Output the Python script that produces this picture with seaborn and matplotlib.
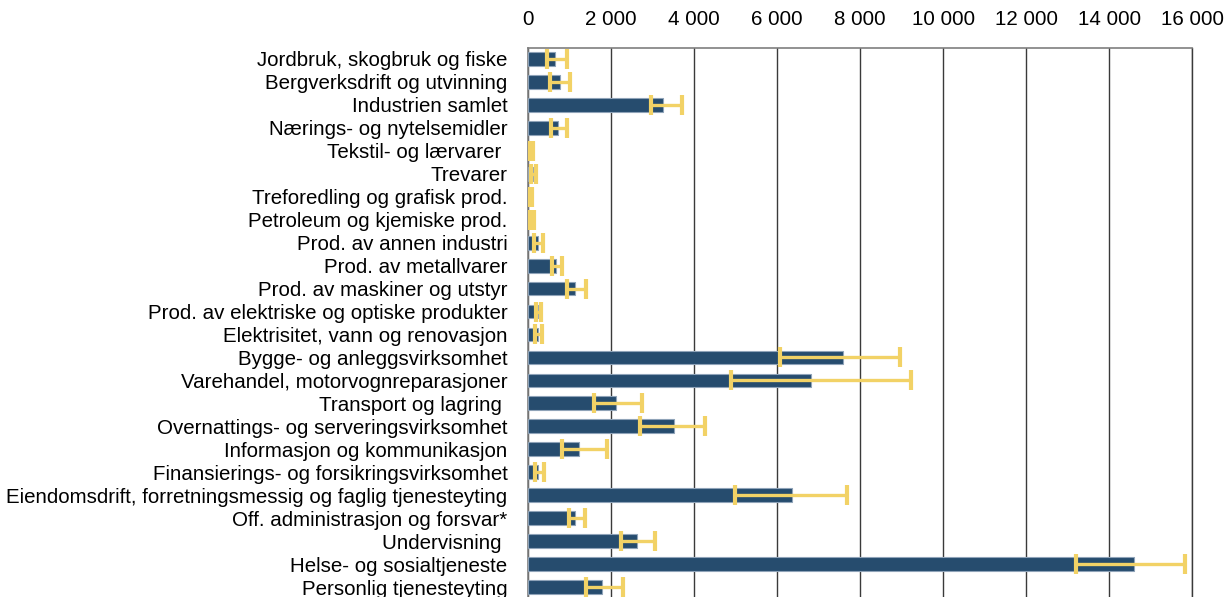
import matplotlib
matplotlib.use("Agg")
import matplotlib.pyplot as plt
import matplotlib.ticker as mticker
import seaborn as sns
import numpy as np
import pandas as pd

categories = [
    "Jordbruk, skogbruk og fiske",
    "Bergverksdrift og utvinning",
    "Industrien samlet",
    "Nærings- og nytelsemidler",
    "Tekstil- og lærvarer ",
    "Trevarer",
    "Treforedling og grafisk prod.",
    "Petroleum og kjemiske prod.",
    "Prod. av annen industri",
    "Prod. av metallvarer",
    "Prod. av maskiner og utstyr",
    "Prod. av elektriske og optiske produkter",
    "Elektrisitet, vann og renovasjon",
    "Bygge- og anleggsvirksomhet",
    "Varehandel, motorvognreparasjoner",
    "Transport og lagring ",
    "Overnattings- og serveringsvirksomhet",
    "Informasjon og kommunikasjon",
    "Finansierings- og forsikringsvirksomhet",
    "Eiendomsdrift, forretningsmessig og faglig tjenesteyting",
    "Off. administrasjon og forsvar*",
    "Undervisning ",
    "Helse- og sosialtjeneste",
    "Personlig tjenesteyting",
]
values = [643, 764, 3254, 708, 50, 120, 50, 90, 226, 660, 1125, 226, 241,
          7592, 6813, 2121, 3519, 1222, 241, 6348, 1125, 2612, 14596, 1783]
lower = [458, 523, 2950, 555, 20, 70, 10, 50, 145, 563, 925, 190, 160,
         6066, 4878, 1576, 2692, 812, 161, 4989, 988, 2227, 13192, 1391]
upper = [933, 1005, 3697, 940, 110, 175, 100, 140, 362, 820, 1383, 310, 320,
         8965, 9223, 2747, 4258, 1897, 386, 7688, 1374, 3053, 15826, 2290]
xticks = [0, 2000, 4000, 6000, 8000, 10000, 12000, 14000, 16000]

sns.set_theme(style="white")
plt.rcParams["font.family"] = ["Liberation Sans", "DejaVu Sans"]

fig = plt.figure(figsize=(12.26, 5.97), dpi=100)
ax = fig.add_axes([0.4309, -0.0025, 0.5416, 0.9229])

df = pd.DataFrame({"cat": categories, "val": values})
sns.barplot(data=df, x="val", y="cat", color="#264C6E", saturation=1,
            width=0.6, edgecolor="#8FA3B8", linewidth=0.8, ax=ax, zorder=3)

v = np.array(values)
xerr = [v - np.array(lower), np.array(upper) - v]
ax.errorbar(v, np.arange(len(categories)), xerr=xerr, fmt="none",
            ecolor="#F2D266", elinewidth=2.4, capsize=7, capthick=3,
            zorder=4)

ax.set_xlim(0, 16000)
ax.set_ylim(len(categories) - 0.5, -0.5)
ax.set_xticks(xticks)
ax.xaxis.set_major_formatter(mticker.FuncFormatter(
    lambda x, p: f"{int(x):,}".replace(",", " ")))
ax.xaxis.tick_top()
ax.tick_params(axis="x", length=0, pad=13, labelsize=14.8, colors="#000000")
ax.tick_params(axis="y", length=0, pad=15, labelsize=14.8, colors="#000000")
ax.set_xlabel("")
ax.set_ylabel("")
ax.grid(axis="x", color="#3a3a3a", linewidth=1.0, zorder=0)
ax.set_axisbelow(True)
for s in ["left", "top"]:
    ax.spines[s].set_visible(True)
    ax.spines[s].set_color("#7f7f7f")
    ax.spines[s].set_linewidth(1.2)
ax.spines["right"].set_visible(True)
ax.spines["right"].set_color("#3a3a3a")
ax.spines["right"].set_linewidth(1.0)
ax.spines["bottom"].set_visible(False)

fig.savefig("out.png", dpi=100)
